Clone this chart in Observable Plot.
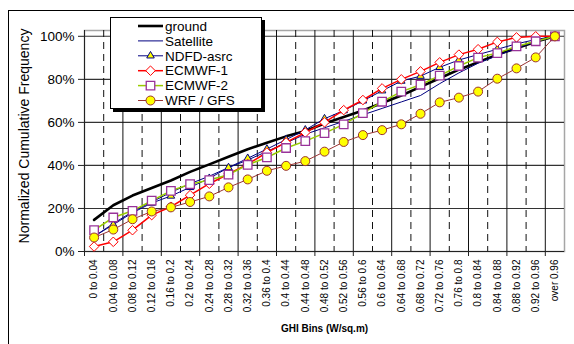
<!DOCTYPE html>
<html><head><meta charset="utf-8">
<script src="https://cdn.jsdelivr.net/npm/d3@7"></script>
<script src="https://cdn.jsdelivr.net/npm/@observablehq/plot@0.6"></script>
<style>
html,body{margin:0;padding:0;overflow:hidden;background:#fff;}
#wrap{position:relative;width:574px;height:344px;overflow:hidden;font-family:"Liberation Sans",Arial,sans-serif;}
#chart{position:absolute;left:0;top:0;}
#frame{position:absolute;left:8px;top:10px;width:620px;height:400px;border:1px solid #000;box-sizing:border-box;pointer-events:none;}
#legend{position:absolute;left:110px;top:17px;}
</style></head>
<body>
<div id="wrap"><div id="chart"></div><div id="frame"></div><div id="legend"></div></div>
<script>
const binLabels = ["0 to 0.04","0.04 to 0.08","0.08 to 0.12","0.12 to 0.16","0.16 to 0.2","0.2 to 0.24","0.24 to 0.28","0.28 to 0.32","0.32 to 0.36","0.36 to 0.4","0.4 to 0.44","0.44 to 0.48","0.48 to 0.52","0.52 to 0.56","0.56 to 0.6","0.6 to 0.64","0.64 to 0.68","0.68 to 0.72","0.72 to 0.76","0.76 to 0.8","0.8 to 0.84","0.84 to 0.88","0.88 to 0.92","0.92 to 0.96","over 0.96"];
const yTicks = [0,20,40,60,80,100];
const seriesNames = ["ground","Satellite","NDFD-asrc","ECMWF-1","ECMWF-2","WRF / GFS"];
const ground    = [14.7,21.5,26,29.5,33,37,40.5,44,47.5,50.5,53.5,56,59.5,62.5,65.5,69,72.5,76.5,80.5,84.5,88,91.5,94.5,97.5,100];
const satellite = [7,13,18.5,23,27.5,31.5,35,39,42.5,46.5,50.5,54.5,57.5,60.5,63.5,66.5,69.5,72.5,78,83,87.5,91,94.5,97.5,100];
const ndfd      = [7,12.5,18,22.5,25.8,29.8,34,39,43.3,47.6,52,56.5,61.7,65.5,70,74.7,79.2,81.5,85.6,89,91.5,94,96.5,98.5,100];
const ecmwf1    = [2.3,4.5,9.9,16.9,20.8,26.2,31.5,36,40.6,46,50.7,55.3,60,65.7,70.4,75.8,80,83.7,87.9,91.5,94,97.4,99.5,100,100];
const ecmwf2    = [9.9,15.8,18.9,23.6,28.2,31.3,33.2,35.7,40.3,43.7,48.1,51.3,55,59.1,64.3,69.6,74.3,77.5,81.7,86.2,90.1,92.2,95.3,97.7,100];
const wrf       = [6.5,10.2,15,18.6,20.5,23,25.6,29.8,33.5,37.5,39.8,42,46.4,50.9,54.1,56.4,59.1,64,69.3,71.5,74.3,80.3,85.1,90.2,100];

const styles = [
  {name:"ground", values:ground, stroke:"#000000", sw:2.6, symbol:null},
  {name:"Satellite", values:satellite, stroke:"#000080", sw:1, symbol:null},
  {name:"NDFD-asrc", values:ndfd, stroke:"#000080", sw:1, symbol:"triangle", r:2.8, fill:"#ffff00", mstroke:"#000080", msw:1},
  {name:"ECMWF-1", values:ecmwf1, stroke:"#ff0000", sw:1.5, symbol:"diamond2", r:4.3, fill:"#ffffff", mstroke:"#ff0000", msw:1},
  {name:"ECMWF-2", values:ecmwf2, stroke:"#99cc00", sw:1.5, symbol:"square", r:4.8, fill:"#ffffff", mstroke:"#993399", msw:1.3},
  {name:"WRF / GFS", values:wrf, stroke:"#993333", sw:1, symbol:"circle", r:4.5, fill:"#ffff00", mstroke:"#993333", msw:1}
];

const rows = [];
styles.forEach(s => s.values.forEach((v, i) => rows.push({series: s.name, i, bin: binLabels[i], v})));

const n = binLabels.length;
const boundaries = d3.range(1, n);
const evenTicks = d3.range(0, n + 1, 2);
const centers = d3.range(n).map(i => i + 0.5);

const marks = [
  Plot.frame({stroke:"#a6a6a6", strokeWidth:1.5}),
  Plot.ruleY(yTicks.filter(t => t > 0), {stroke:"#333", strokeWidth:1.1}),
  Plot.ruleX(boundaries.filter(b => b % 2 === 1), {stroke:"#111", strokeWidth:1, strokeDasharray:"7,5"}),
  Plot.ruleX(boundaries.filter(b => b % 2 === 0), {stroke:"#111", strokeWidth:1}),
  Plot.ruleX([0], {stroke:"#222"}),
  Plot.ruleY([0], {stroke:"#222"}),
  Plot.axisY(yTicks, {tickSize:6, tickPadding:4, tickFormat: d => d + "%", fontSize:13.5, label:null, stroke:"#222"}),
  Plot.axisX(evenTicks, {tickSize:5, tickFormat: () => "", label:null, stroke:"#222"}),
  Plot.axisX(centers, {tickSize:0, tickPadding:8, tickRotate:-90, tickFormat: d => binLabels[Math.floor(d)], fontSize:10, label:null})
];
styles.forEach(s => {
  const data = rows.filter(d => d.series === s.name);
  marks.push(Plot.line(data, {x: d => d.i + 0.5, y: "v", stroke: s.stroke, strokeWidth: s.sw}));
  if (s.symbol) marks.push(Plot.dot(data, {x: d => d.i + 0.5, y: "v", symbol: s.symbol, r: s.r, fill: s.fill, stroke: s.mstroke, strokeWidth: s.msw}));
});
marks.push(Plot.text(["GHI Bins (W/sq.m)"], {frameAnchor:"bottom", dy:80, text: d => d, fontWeight:"bold", fontSize:10}));
marks.push(Plot.text(["Normalized Cumulative Frequency"], {frameAnchor:"left", textAnchor:"middle", dx:-59.5, dy:-5, rotate:-90, text: d => d, fontSize:14}));

const chart = Plot.plot({
  width:574, height:344,
  marginLeft:84, marginRight:10, marginTop:30, marginBottom:93,
  style:{fontFamily:"'Liberation Sans', Arial, sans-serif", background:"transparent", color:"#000"},
  x:{type:"linear", domain:[0, n], axis:null, label:null},
  y:{domain:[0, 102.7], axis:null, label:null},
  marks
});
document.getElementById("chart").appendChild(chart);

// Legend
const lw = 152, lh = 92;
const lsvg = d3.select("#legend").append("svg").attr("width", lw + 4).attr("height", lh + 4)
  .style("font-family", "'Liberation Sans', Arial, sans-serif");
lsvg.append("rect").attr("x", 3).attr("y", 3).attr("width", lw).attr("height", lh).attr("fill", "#000");
lsvg.append("rect").attr("x", 0.5).attr("y", 0.5).attr("width", lw - 1).attr("height", lh - 1).attr("fill", "#fff").attr("stroke", "#000");
const symMap = {triangle: d3.symbolTriangle, diamond2: d3.symbolDiamond2, square: d3.symbolSquare, circle: d3.symbolCircle};
styles.forEach((s, k) => {
  const y = 9 + k * 14.9;
  const g = lsvg.append("g").attr("transform", `translate(0,${y})`);
  g.append("line").attr("x1", 28).attr("x2", 53).attr("y1", 0).attr("y2", 0).attr("stroke", s.stroke).attr("stroke-width", s.sw);
  if (s.symbol) g.append("path").attr("transform", "translate(40.5,0)")
    .attr("d", d3.symbol(symMap[s.symbol], Math.PI * s.r * s.r)())
    .attr("fill", s.fill).attr("stroke", s.mstroke).attr("stroke-width", s.msw);
  g.append("text").attr("x", 55).attr("y", 0).attr("dy", "0.35em").attr("font-size", 13.5).text(s.name);
});
</script>
</body></html>
